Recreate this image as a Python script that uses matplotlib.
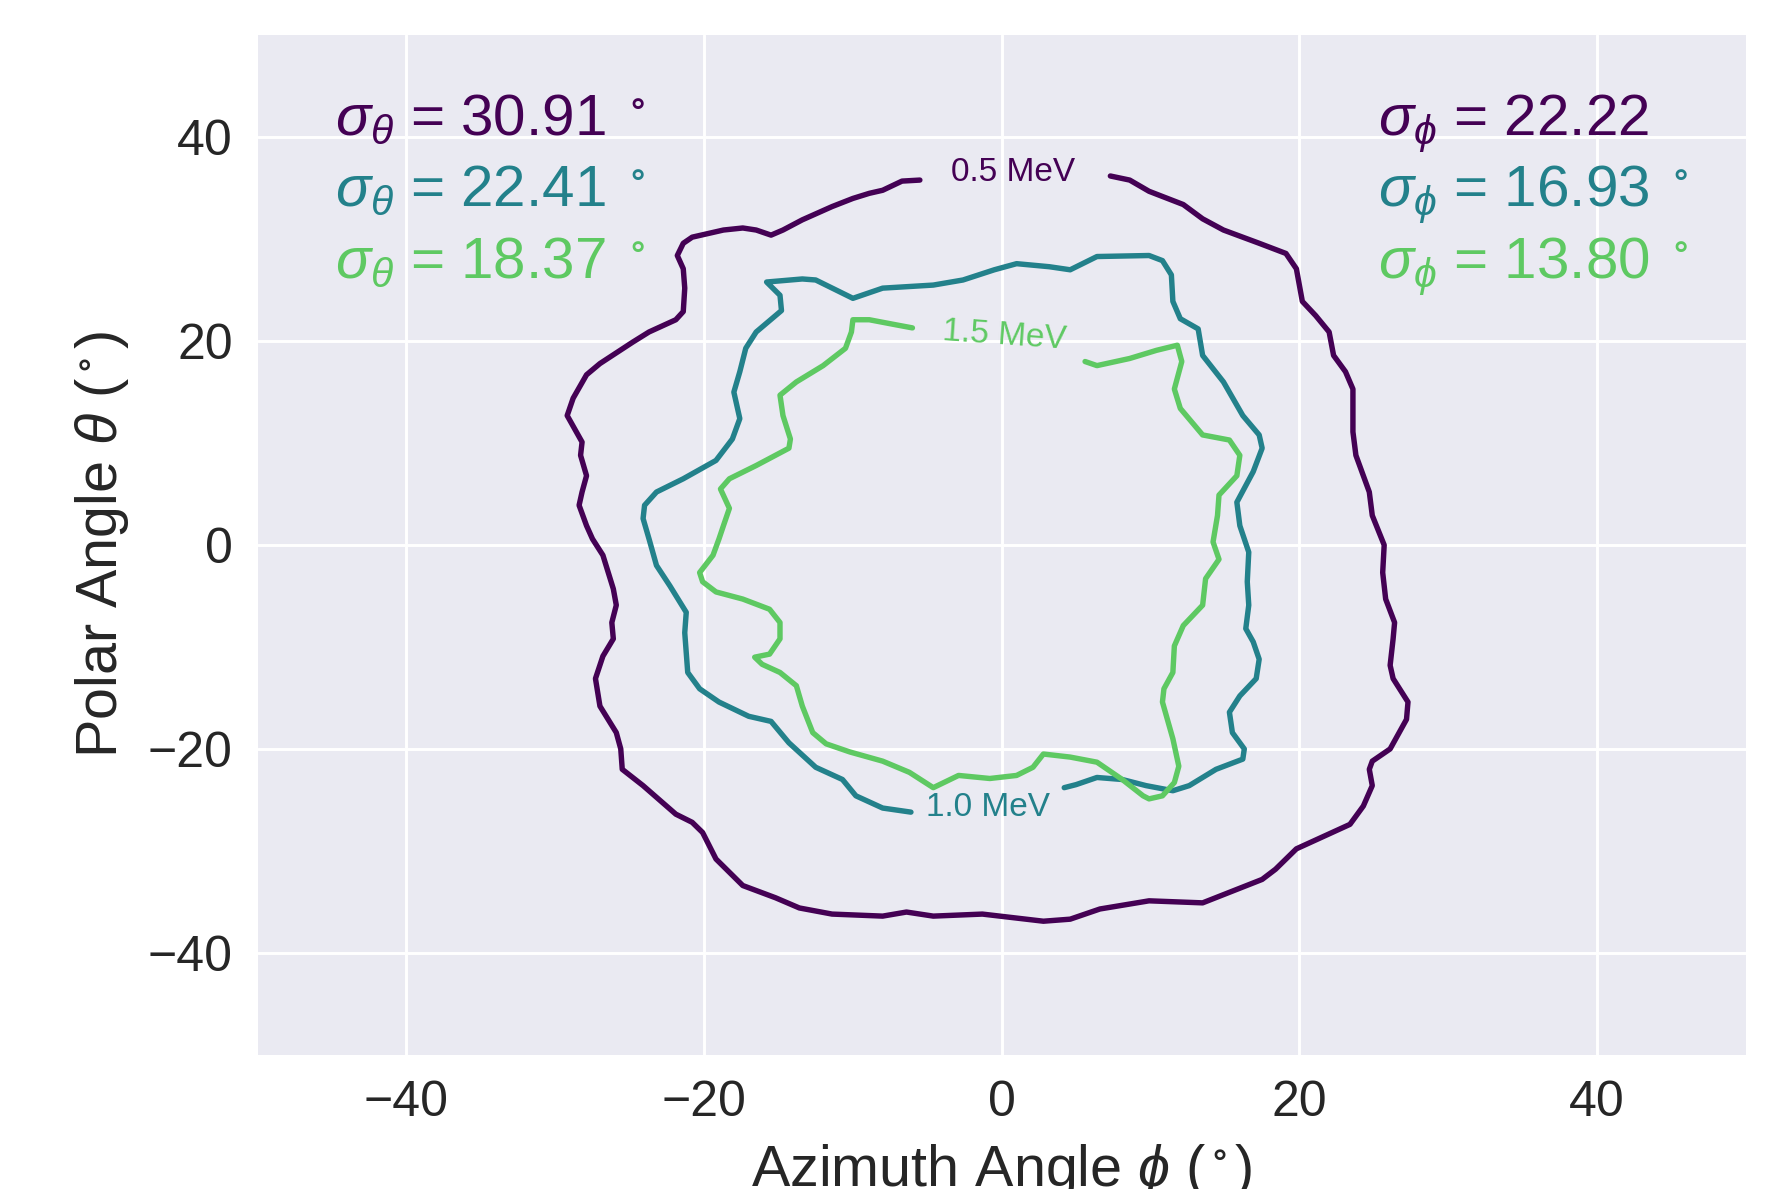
import matplotlib
matplotlib.use("Agg")
import matplotlib.pyplot as plt
import seaborn as sns

# ---------------- data ----------------
energies = ["0.5 MeV", "1.0 MeV", "1.5 MeV"]
colors = ["#440154", "#23818B", "#5EC962"]
sigma_theta = ["30.91", "22.41", "18.37"]
sigma_phi = ["22.22", "16.93", "13.80"]
phi_deg_suffix = ["", " $^\\circ$", " $^\\circ$"]

c05_phi = [-5.5, -6.7, -8.0, -8.9, -10.0, -11.4, -13.4, -14.7, -15.5, -16.5, -17.4, -18.7, -20.8, -21.4,
           -21.8, -21.4, -21.3, -21.4, -21.9, -23.7, -24.8, -27.0, -27.9, -28.8, -29.2, -28.7, -28.2, -28.3,
           -27.9, -28.2, -28.4, -27.9, -27.5, -26.8, -26.1, -25.9, -26.2, -26.1, -26.8, -27.3, -27.0, -25.9,
           -25.6, -25.5, -24.1, -21.9, -20.8, -20.1, -19.2, -17.4, -15.2, -13.6, -11.4, -8.0, -6.4, -4.6,
           -1.3, 2.8, 4.6, 6.6, 9.9, 13.5, 17.5, 18.4, 19.8, 23.4, 24.3, 24.9, 24.7, 24.9, 26.1, 27.2, 27.3,
           26.3, 26.1, 26.3, 26.4, 25.8, 25.6, 25.7, 24.9, 24.7, 23.8, 23.6, 23.6, 23.1, 22.3, 22.0, 21.1,
           20.2, 19.8, 19.1, 17.3, 14.9, 13.5, 12.2, 9.9, 8.6, 7.3]
c05_theta = [35.8, 35.7, 34.8, 34.5, 34.0, 33.2, 31.9, 30.9, 30.4, 30.9, 31.1, 30.9, 30.2, 29.6,
             28.4, 27.1, 25.2, 22.9, 22.1, 20.9, 19.9, 17.8, 16.7, 14.4, 12.7, 11.4, 10.1, 8.8,
             6.8, 5.2, 3.9, 1.9, 0.6, -1.0, -4.3, -5.9, -7.6, -9.2, -10.9, -13.1, -15.8, -18.4,
             -20.0, -22.0, -23.6, -26.4, -27.2, -28.2, -30.8, -33.4, -34.6, -35.6, -36.2, -36.4, -36.0, -36.4,
             -36.2, -36.9, -36.7, -35.7, -34.9, -35.1, -32.8, -31.8, -29.8, -27.4, -25.6, -23.6, -22.0, -21.2,
             -20.0, -17.1, -15.4, -13.1, -11.8, -9.2, -7.6, -5.3, -2.7, 0.0, 2.9, 5.2, 8.8, 11.1, 15.3, 17.0,
             18.6, 20.9, 22.5, 23.9, 27.1, 28.6, 29.6, 30.9, 32.0, 33.4, 34.7, 35.8, 36.2]

c10_phi = [4.2, 5.0, 6.4, 8.1, 9.7, 11.5, 12.6, 14.4, 16.2, 16.3, 15.5, 15.3, 16.0, 17.1, 17.3, 16.9,
           16.4, 16.6, 16.5, 16.6, 16.0, 15.8, 16.9, 17.5, 17.3, 16.2, 14.9, 13.5, 13.2, 12.0, 11.5, 11.4,
           10.8, 9.9, 6.4, 4.6, 3.2, 1.0, -0.5, -2.6, -4.6, -8.0, -10.0, -12.5, -13.4, -15.8, -14.9, -14.8,
           -16.5, -17.2, -17.6, -18.0, -17.6, -18.1, -19.2, -21.4, -23.2, -24.0, -24.1, -23.7, -23.2, -22.3,
           -21.2, -21.3, -21.1, -20.3, -19.0, -17.0, -15.5, -14.3, -12.5, -10.7, -9.8, -8.0, -6.1]
c10_theta = [-23.8, -23.5, -22.8, -23.0, -23.6, -24.1, -23.6, -22.0, -21.0, -20.0, -18.4, -16.4, -14.8,
             -13.1, -11.2, -9.5, -8.2, -5.9, -3.6, -0.7, 1.9, 4.2, 7.2, 9.5, 10.8, 12.7, 16.0, 18.6, 21.2,
             22.2, 23.9, 26.5, 27.9, 28.4, 28.3, 27.0, 27.3, 27.6, 27.0, 26.0, 25.5, 25.2, 24.2, 26.0, 26.1,
             25.8, 24.5, 23.0, 20.9, 19.3, 17.0, 15.0, 12.4, 10.4, 8.3, 6.5, 5.2, 3.9, 2.6, 0.6, -2.0, -4.0,
             -6.6, -8.6, -12.5, -14.1, -15.4, -16.8, -17.3, -19.4, -21.8, -23.0, -24.6, -25.8, -26.2]

c15_phi = [5.6, 6.4, 8.6, 10.4, 11.8, 12.1, 11.6, 12.0, 13.5, 15.3, 16.0, 15.8, 14.6, 14.5, 14.2, 14.6,
           13.7, 13.5, 12.2, 11.6, 11.5, 10.9, 10.8, 11.5, 11.9, 11.6, 10.8, 9.9, 9.5, 8.1, 6.4, 4.6, 2.8,
           2.1, 1.0, -0.8, -2.9, -4.6, -6.2, -8.0, -10.2, -11.8, -12.7, -13.4, -13.8, -14.9, -16.1, -16.6,
           -15.6, -14.9, -14.9, -15.6, -17.4, -19.2, -20.1, -20.3, -19.4, -19.0, -18.7, -18.3, -18.9, -18.3,
           -16.5, -14.3, -14.2, -14.7, -14.9, -13.8, -12.0, -10.5, -10.1, -10.0, -8.9, -7.1, -6.0]
c15_theta = [18.0, 17.6, 18.3, 19.1, 19.6, 18.0, 15.3, 13.4, 10.8, 10.3, 8.8, 6.8, 4.9, 2.9, 0.3, -1.4,
             -3.3, -5.9, -7.9, -9.9, -12.5, -14.1, -15.4, -19.0, -21.7, -23.3, -24.6, -24.9, -24.6, -23.0,
             -21.3, -20.8, -20.5, -21.8, -22.6, -22.9, -22.6, -23.8, -22.3, -21.2, -20.3, -19.5, -18.4, -15.8,
             -13.8, -12.5, -11.7, -11.0, -10.7, -9.2, -7.6, -6.3, -5.3, -4.6, -3.6, -2.7, -1.0, 0.6, 1.9, 3.6,
             5.5, 6.5, 7.8, 9.5, 10.4, 12.7, 14.7, 16.0, 17.6, 19.3, 20.9, 22.1, 22.1, 21.6, 21.3]

# contour label anchor (phi, theta, rotation)
label_pos = [(0.75, 36.5, 0), (-0.9, -25.7, 0), (0.2, 20.5, -4)]

ticks = [-40, -20, 0, 20, 40]

# ---------------- style ----------------
sns.set_style("darkgrid")
plt.rcParams["font.family"] = ["Liberation Sans", "DejaVu Sans"]
plt.rcParams["mathtext.fontset"] = "custom"
plt.rcParams["mathtext.rm"] = "Liberation Sans"
plt.rcParams["mathtext.it"] = "Liberation Sans:italic"
plt.rcParams["mathtext.bf"] = "Liberation Sans:bold"
plt.rcParams["mathtext.fallback"] = "stixsans"

fig = plt.figure(figsize=(1788 / 300, 1189 / 300), dpi=300)
ax = fig.add_axes([0.1441, 0.1129, 0.9764 - 0.1441, 0.9703 - 0.1129])
ax.set_facecolor("#EAEAF2")
ax.grid(True, color="white", linewidth=0.7)
for s in ax.spines.values():
    s.set_visible(False)

contours = [(c05_phi, c05_theta), (c10_phi, c10_theta), (c15_phi, c15_theta)]
for (px, py), col, lab, (lx, ly, rot) in zip(contours, colors, energies, label_pos):
    ax.plot(px, py, color=col, linewidth=1.3, solid_capstyle="round", solid_joinstyle="round")
    ax.text(lx, ly, lab, color=col, fontsize=8, ha="center", va="center",
            rotation=rot, rotation_mode="anchor")

row_y = [40.2, 33.3, 26.2]
for i in range(3):
    ax.text(-44.8, row_y[i], r"$\sigma_\theta$ = " + sigma_theta[i] + " $^\\circ$",
            color=colors[i], fontsize=14, ha="left", va="baseline")
    ax.text(25.3, row_y[i], r"$\sigma_\phi$ = " + sigma_phi[i] + phi_deg_suffix[i],
            color=colors[i], fontsize=14, ha="left", va="baseline")

ax.set_xlim(-50, 50)
ax.set_ylim(-50, 50)
ax.set_xticks(ticks)
ax.set_yticks(ticks)
ax.tick_params(axis="both", labelsize=12, length=0, pad=6, colors="#262626")
ax.set_xlabel(r"Azimuth Angle $\phi$ ($^\circ$)", fontsize=13.8, color="#262626")
ax.set_ylabel(r"Polar Angle $\theta$ ($^\circ$)", fontsize=13.8, color="#262626")

fig.savefig("out.png", dpi=300)
